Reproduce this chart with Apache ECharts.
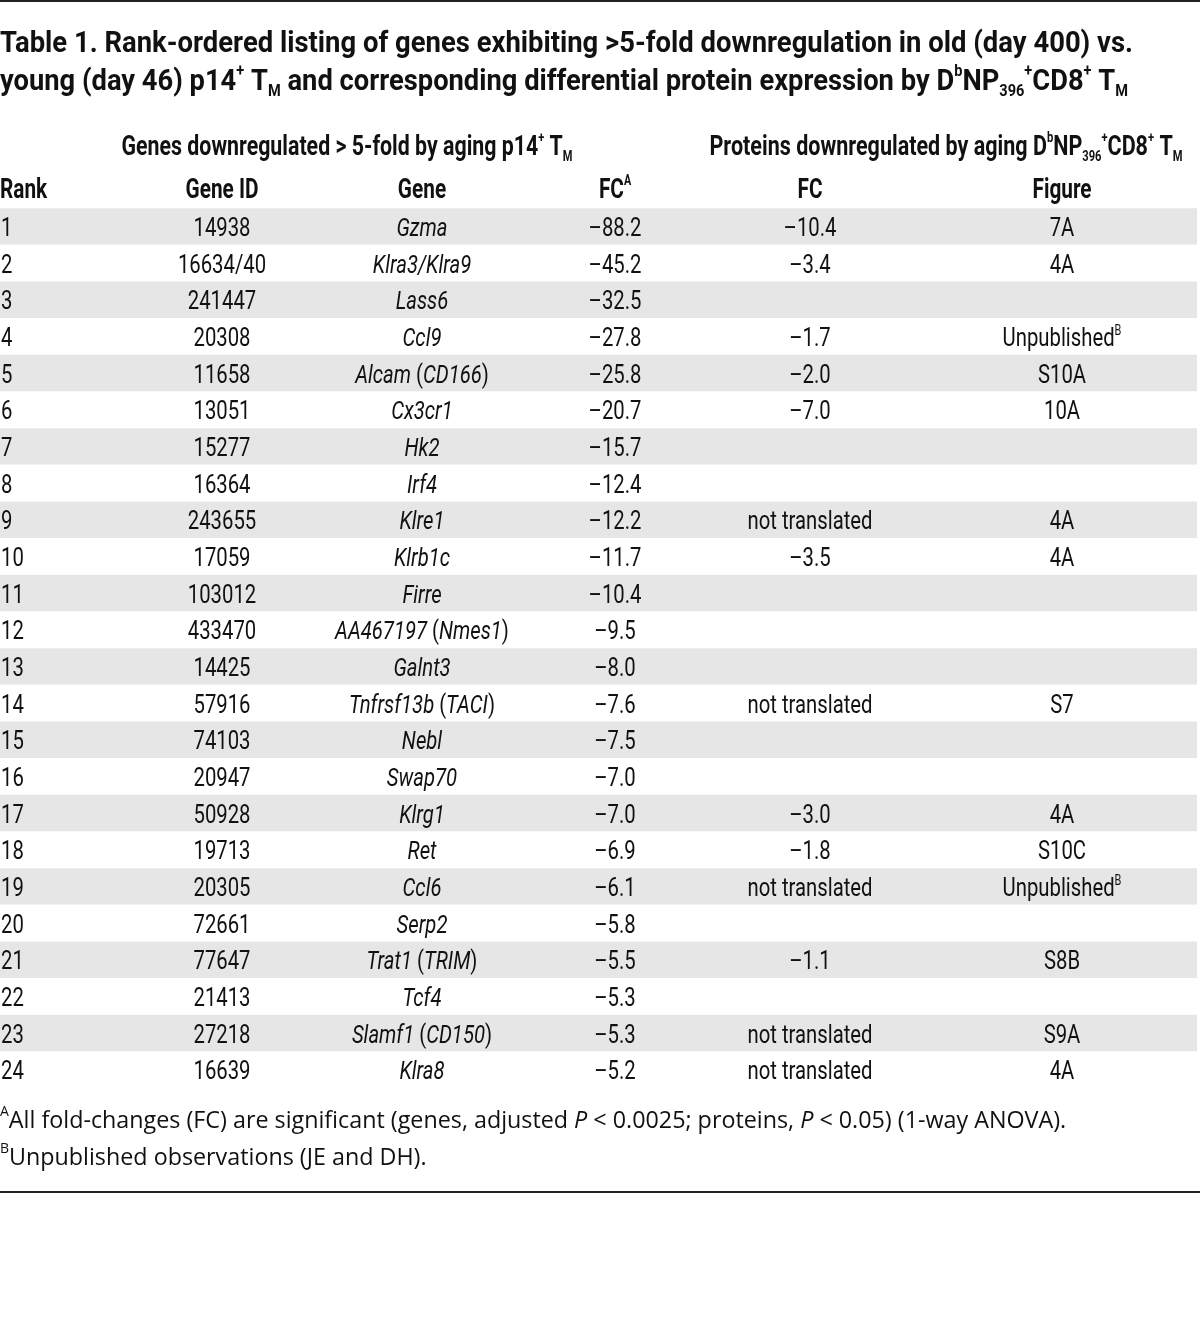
<!DOCTYPE html>
<html>
<head>
<meta charset="utf-8">
<script src="https://cdn.jsdelivr.net/npm/echarts@6/dist/echarts.min.js"></script>
<style>
html,body{margin:0;padding:0;background:#fff;}
#chart{width:1200px;height:1317px;}
</style>
</head>
<body>
<div id="chart"></div>
<script>
// ---- Data ----
const ranks = ['1','2','3','4','5','6','7','8','9','10','11','12','13','14','15','16','17','18','19','20','21','22','23','24'];
const geneIds = ['14938','16634/40','241447','20308','11658','13051','15277','16364','243655','17059','103012','433470','14425','57916','74103','20947','50928','19713','20305','72661','77647','21413','27218','16639'];
const genes = ['Gzma','Klra3/Klra9','Lass6','Ccl9','Alcam (CD166)','Cx3cr1','Hk2','Irf4','Klre1','Klrb1c','Firre','AA467197 (Nmes1)','Galnt3','Tnfrsf13b (TACI)','Nebl','Swap70','Klrg1','Ret','Ccl6','Serp2','Trat1 (TRIM)','Tcf4','Slamf1 (CD150)','Klra8'];
const fcGenes = [-88.2,-45.2,-32.5,-27.8,-25.8,-20.7,-15.7,-12.4,-12.2,-11.7,-10.4,-9.5,-8.0,-7.6,-7.5,-7.0,-7.0,-6.9,-6.1,-5.8,-5.5,-5.3,-5.3,-5.2];
const fcProteins = [-10.4,-3.4,null,-1.7,-2.0,-7.0,null,null,'not translated',-3.5,null,null,null,'not translated',null,null,-3.0,-1.8,'not translated',null,-1.1,null,'not translated','not translated'];
const figures = ['7A','4A','','Unpublished','S10A','10A','','','4A','4A','','','','S7','','','4A','S10C','Unpublished','','S8B','','S9A','4A'];
const figureNotes = ['','','','B','','','','','','','','','','','','','','','B','','','','',''];

const titleLine1 = '{b|Table 1. Rank-ordered listing of genes exhibiting >5-fold downregulation in old (day 400) vs.}';
const titleLine2 = '{b|young (day 46) p14}{sup|+}{b| T}{sub|M}{b| and corresponding differential protein expression by D}{sup|b}{b|NP}{sub|396}{sup|+}{b|CD8}{sup|+}{b| T}{sub|M}';
const groupHeader1 = '{b|Genes downregulated > 5-fold by aging p14}{sup|+}{b| T}{sub|M}';
const groupHeader2 = '{b|Proteins downregulated by aging D}{sup|b}{b|NP}{sub|396}{sup|+}{b|CD8}{sup|+}{b| T}{sub|M}';
const colHeaders = ['Rank','Gene ID','Gene','FC','FC','Figure'];
const colHeaderNotes = ['','','','A','',''];
const footnotes = ['All fold-changes (FC) are significant (genes, adjusted {i|P} < 0.0025; proteins, {i|P} < 0.05) (1-way ANOVA).','Unpublished observations (JE and DH).'];
const footnoteMarks = ['A','B'];

// ---- Layout / style ----
const colX = [1, 222, 422, 615, 810, 1062];
const colAlign = ['left','center','center','center','center','center'];
const FONT = "Roboto";
const FOOT = "'Open Sans'";
const TXT = '#111';

const mctx = document.createElement('canvas').getContext('2d');
function fontStr(st){ return (st.fontStyle||'normal') + ' ' + (st.fontWeight||'normal') + ' ' + st.fontSize + 'px ' + st.fontFamily; }
function measureRich(text, rich, base){
  let w = 0; const re = /\{(\w+)\|([^}]*)\}/g; let last = 0, m;
  const add = (s, st) => { if (!s) return; mctx.font = fontStr(st); w += mctx.measureText(s).width; };
  while ((m = re.exec(text))) { add(text.slice(last, m.index), base); add(m[2], rich[m[1]]); last = re.lastIndex; }
  add(text.slice(last), base);
  return w;
}

function dash(v){ return '\u2013' + Math.abs(v).toFixed(1); }
function geneRich(s){ return s.replace(/[^()]+/g, m => '{i|' + m + '}'); }

const BFS = 26;
const bodyBase = {fontFamily:FONT, fontSize:BFS};
const bodyRich = {
  n: {fontFamily:FONT, fontSize:BFS, fill:TXT, lineHeight:30},
  i: {fontFamily:FONT, fontSize:BFS, fontStyle:'italic', fill:TXT, lineHeight:30},
  sup: {fontFamily:FONT, fontSize:14, fill:TXT, verticalAlign:'top', lineHeight:30}
};
const bodyScale = 125 / measureRich('{n|not translated}', bodyRich, bodyBase);

const boldRich = (fs) => ({
  b: {fontFamily:FONT, fontSize:fs, fontWeight:'bold', fill:TXT, lineHeight:fs+6},
  sup: {fontFamily:FONT, fontSize:Math.round(fs*0.52), fontWeight:'bold', fill:TXT, verticalAlign:'top', lineHeight:fs+6},
  sub: {fontFamily:FONT, fontSize:Math.round(fs*0.52), fontWeight:'bold', fill:TXT, verticalAlign:'bottom', lineHeight:fs+6, padding:[12,0,0,0]}
});
const TFS = 30, HFS = 27;
const titleRich = boldRich(TFS), headRich = boldRich(HFS);
const headScale = 73 / measureRich('{b|Gene ID}', headRich, {fontFamily:FONT, fontSize:HFS});
const fit = (text, rich, fs, target) => target / measureRich(text, rich, {fontFamily:FONT, fontSize:fs});

const columnTexts = [
  ranks.map(r => '{n|' + r + '}'),
  geneIds.map(g => '{n|' + g + '}'),
  genes.map(g => geneRich(g)),
  fcGenes.map(v => '{n|' + dash(v) + '}'),
  fcProteins.map(v => v === null ? '' : (typeof v === 'string' ? '{n|' + v + '}' : '{n|' + dash(v) + '}')),
  figures.map((f,i) => f ? '{n|' + f + '}' + (figureNotes[i] ? '{sup|' + figureNotes[i] + '}' : '') : '')
];

const series = columnTexts.map((texts, c) => ({
  type: 'custom',
  silent: true,
  coordinateSystem: 'cartesian2d',
  data: texts.map((t, i) => [colX[c], i, t]),
  encode: {x: 0, y: 1},
  renderItem: (params, api) => {
    const pt = api.coord([api.value(0), api.value(1)]);
    const t = texts[params.dataIndex];
    if (!t) return null;
    return {
      type: 'text', x: pt[0], y: pt[1] + 3, scaleX: bodyScale, scaleY: 1,
      style: {text: t, rich: bodyRich, fill: TXT, fontFamily: FONT, fontSize: BFS,
              align: colAlign[c], verticalAlign: 'middle'}
    };
  }
}));

const graphics = [
  {type:'rect', shape:{x:0, y:0, width:1200, height:2}, style:{fill:'#222'}},
  {type:'rect', shape:{x:0, y:1191, width:1200, height:2}, style:{fill:'#222'}},
  {type:'text', x:0, y:44, scaleX: fit(titleLine1, titleRich, TFS, 1133), style:{text:titleLine1, rich:titleRich, align:'left', verticalAlign:'middle', fill:TXT}},
  {type:'text', x:0, y:82, scaleX: fit(titleLine2, titleRich, TFS, 1128), style:{text:titleLine2, rich:titleRich, align:'left', verticalAlign:'middle', fill:TXT}},
  {type:'text', x:347, y:148, scaleX: fit(groupHeader1, headRich, HFS, 451), style:{text:groupHeader1, rich:headRich, align:'center', verticalAlign:'middle', fill:TXT}},
  {type:'text', x:946, y:148, scaleX: fit(groupHeader2, headRich, HFS, 473), style:{text:groupHeader2, rich:headRich, align:'center', verticalAlign:'middle', fill:TXT}}
];
colHeaders.forEach((h, c) => {
  graphics.push({type:'text', x: colX[c] - (c===0?1:0), y:191, scaleX: headScale, style:{
    text: '{b|' + h + '}' + (colHeaderNotes[c] ? '{sup|' + colHeaderNotes[c] + '}' : ''),
    rich: headRich, align: colAlign[c], verticalAlign:'middle', fill:TXT}});
});

// footnotes: size chosen so the first line spans the reference width
const footRich0 = (fs) => ({
  t: {fontFamily:FOOT, fontSize:fs, fill:TXT, lineHeight:fs+8},
  i: {fontFamily:FOOT, fontSize:fs, fontStyle:'italic', fill:TXT, lineHeight:fs+8},
  sup: {fontFamily:FOOT, fontSize:Math.round(fs*0.6), fill:TXT, verticalAlign:'top', lineHeight:fs+8}
});
const footTexts = footnotes.map((f, k) => '{sup|' + footnoteMarks[k] + '}' +
  f.split(/(\{i\|[^}]*\})/).map(s => s.startsWith('{i|') ? s : (s ? '{t|' + s + '}' : '')).join(''));
const ffs = Math.round(20 * 1067 / measureRich(footTexts[0], footRich0(20), {fontFamily:FOOT, fontSize:20}) * 10) / 10;
const footRich = footRich0(ffs);
footTexts.forEach((t, k) => {
  graphics.push({type:'text', x:0, y:1121 + k*37, style:{text: t, rich: footRich, align:'left', verticalAlign:'middle', fill:TXT}});
});

const chart = echarts.init(document.getElementById('chart'), null, {renderer:'canvas'});
chart.setOption({
  animation: false,
  backgroundColor: '#fff',
  grid: {left:0, right:3, top:208.2, bottom:228.8, containLabel:false},
  xAxis: {type:'value', min:0, max:1197, show:false},
  yAxis: {
    type:'category', data:ranks, inverse:true, boundaryGap:true,
    axisLine:{show:false}, axisTick:{show:false}, axisLabel:{show:false}, splitLine:{show:false},
    splitArea:{show:true, areaStyle:{color:['#e6e6e6','#ffffff']}}
  },
  series: series,
  graphic: graphics
});
</script>
</body>
</html>
